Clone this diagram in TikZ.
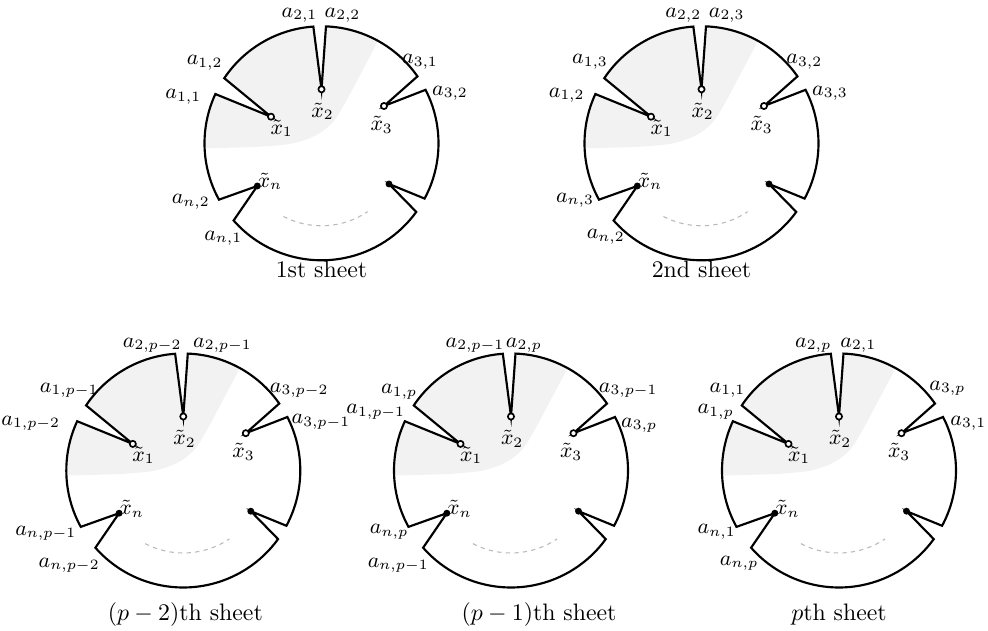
\documentclass[tikz,border=0pt]{standalone}
\usepackage{tikz}
\definecolor{shadegray}{RGB}{241,242,241}
\tikzset{
  rim/.style={line width=0.9pt, line join=miter},
  dasharc/.style={gray!55, line width=0.45pt, dash pattern=on 1.8pt off 1.8pt},
  hollowpt/.style={circle, draw, fill=white, line width=0.7pt, inner sep=0pt, minimum size=2.6pt},
  solidpt/.style={circle, fill=black, inner sep=0pt, minimum size=2.9pt},
  lab/.style={font=\fontsize{8.7}{10}\selectfont, inner sep=0pt},
  captext/.style={font=\normalsize, inner sep=0pt},
}
\def\crad{117}
\newcommand\rimpath[1]{(34.9:\crad) arc[start angle=34.9,end angle=87.8,radius=\crad] -- (#1x2) -- (94:\crad)
   arc[start angle=94,end angle=146.2,radius=\crad] -- (#1x1) -- (155.1:\crad)
   arc[start angle=155.1,end angle=208.8,radius=\crad] -- (#1xn) -- (221.3:\crad)
   arc[start angle=221.3,end angle=324.1,radius=\crad] -- (#1xu) -- (331.8:\crad)
   arc[start angle=331.8,end angle=387.2,radius=\crad] -- (#1x3) -- cycle}
\newcommand\sheetbase[1]{%
  \coordinate (#1x1) at (-50.5,26.6);
  \coordinate (#1x2) at (0,54);
  \coordinate (#1x3) at (62.5,37.3);
  \coordinate (#1xn) at (-64.2,-42.7);
  \coordinate (#1xu) at (67.5,-40.7);
  \begin{scope}
    \clip \rimpath{#1};
    \fill[shadegray] plot[smooth] coordinates {(-135,-5.5) (-114.8,-5) (-61.5,-3.4) (-28.2,0) (-4.8,8.3) (11.8,21.6) (25.2,43.3) (38.5,68.3) (51.8,93.3) (60,110) (66,122)}
      -- (-10,140) -- (-140,140) -- cycle;
  \end{scope}
  \draw[rim] \rimpath{#1};
  \draw[dasharc] (-117.5:82.5) arc[start angle=-117.5,end angle=-56,radius=82.5];
  \node[hollowpt] (#1p1) at (#1x1) {};
  \node[hollowpt] (#1p2) at (#1x2) {};
  \node[hollowpt] (#1p3) at (#1x3) {};
  \node[solidpt] (#1pn) at (#1xn) {};
  \node[solidpt] (#1pu) at (#1xu) {};
  \node[lab] (#1l1) at (-39.8,15.2) {$\tilde{x}_1$};
  \node[lab] (#1l2) at (1.2,31.8) {$\tilde{x}_2$};
  \node[lab] (#1l3) at (60.2,18.5) {$\tilde{x}_3$};
  \node[lab] (#1ln) at (-51.5,-38.2) {$\tilde{x}_n$};
}
\begin{document}
\begin{tikzpicture}[x=0.42pt,y=0.42pt]
\useasboundingbox (0,0) rectangle (988,631);

% 1st sheet
\begin{scope}[shift={(321.5,487.7)}]
  \sheetbase{sa}
  \node[lab] (sa21) at (-22,128.3) {$a_{2,1}$};
  \node[lab] (sa22) at (21,128.3) {$a_{2,2}$};
  \node[lab] (sa12) at (-116.8,80.6) {$a_{1,2}$};
  \node[lab] (sa11) at (-138.2,46.6) {$a_{1,1}$};
  \node[lab] (sa31) at (98.5,81.6) {$a_{3,1}$};
  \node[lab] (sa32) at (128.5,50.3) {$a_{3,2}$};
  \node[lab] (san2) at (-130.7,-58.4) {$a_{n,2}$};
  \node[lab] (san1) at (-98.2,-95) {$a_{n,1}$};
  \node[captext] (capa) at (0,-126) {1st sheet};
\end{scope}

% 2nd sheet
\begin{scope}[shift={(701.5,487.7)}]
  \sheetbase{sb}
  \node[lab] (sb22) at (-18.2,128.3) {$a_{2,2}$};
  \node[lab] (sb23) at (25.2,128.3) {$a_{2,3}$};
  \node[lab] (sb13) at (-111.5,81.6) {$a_{1,3}$};
  \node[lab] (sb12) at (-134.8,48.3) {$a_{1,2}$};
  \node[lab] (sb32) at (102.8,81.6) {$a_{3,2}$};
  \node[lab] (sb33) at (128.5,50.3) {$a_{3,3}$};
  \node[lab] (sbn3) at (-126.5,-56.7) {$a_{n,3}$};
  \node[lab] (sbn2) at (-95.7,-93.4) {$a_{n,2}$};
  \node[captext] (capb) at (0,-126) {2nd sheet};
\end{scope}

% (p-2)th sheet
\begin{scope}[shift={(183.3,160.5)}]
  \sheetbase{sc}
  \node[lab] (sc2a) at (-31.1,125.5) {$a_{2,p-2}$};
  \node[lab] (sc2b) at (39.2,125.5) {$a_{2,p-1}$};
  \node[lab] (sc1b) at (-114.1,80.5) {$a_{1,p-1}$};
  \node[lab] (sc1a) at (-152.5,47.2) {$a_{1,p-2}$};
  \node[lab] (sc3a) at (115.9,80.5) {$a_{3,p-2}$};
  \node[lab] (sc3b) at (137.7,48.8) {$a_{3,p-1}$};
  \node[lab] (scnb) at (-137.5,-62.8) {$a_{n,p-1}$};
  \node[lab] (scna) at (-114.1,-94.5) {$a_{n,p-2}$};
  \node[captext] (capc) at (2,-144.5) {$(p-2)$th sheet};
\end{scope}

% (p-1)th sheet
\begin{scope}[shift={(511,160.5)}]
  \sheetbase{sd}
  \node[lab] (sd2a) at (-36,125.5) {$a_{2,p-1}$};
  \node[lab] (sd2b) at (13,125.5) {$a_{2,p}$};
  \node[lab] (sd1b) at (-111.8,78.8) {$a_{1,p}$};
  \node[lab] (sd1a) at (-135.2,58.8) {$a_{1,p-1}$};
  \node[lab] (sd3a) at (117.3,80.5) {$a_{3,p-1}$};
  \node[lab] (sd3b) at (128.2,45.5) {$a_{3,p}$};
  \node[lab] (sdnb) at (-121.8,-61.2) {$a_{n,p}$};
  \node[lab] (sdna) at (-112.7,-94.5) {$a_{n,p-1}$};
  \node[captext] (capd) at (28,-144.5) {$(p-1)$th sheet};
\end{scope}

% pth sheet
\begin{scope}[shift={(839,160.5)}]
  \sheetbase{se}
  \node[lab] (se2a) at (-25.7,125.5) {$a_{2,p}$};
  \node[lab] (se2b) at (19.3,125.5) {$a_{2,1}$};
  \node[lab] (se1b) at (-111.5,80.5) {$a_{1,1}$};
  \node[lab] (se1a) at (-123.2,58.8) {$a_{1,p}$};
  \node[lab] (se3a) at (108.5,82.2) {$a_{3,p}$};
  \node[lab] (se3b) at (129.3,47.2) {$a_{3,1}$};
  \node[lab] (senb) at (-122.3,-61.2) {$a_{n,1}$};
  \node[lab] (sena) at (-99.8,-92.8) {$a_{n,p}$};
  \node[captext] (cape) at (0,-144.5) {$p$th sheet};
\end{scope}
\end{tikzpicture}
\end{document}
